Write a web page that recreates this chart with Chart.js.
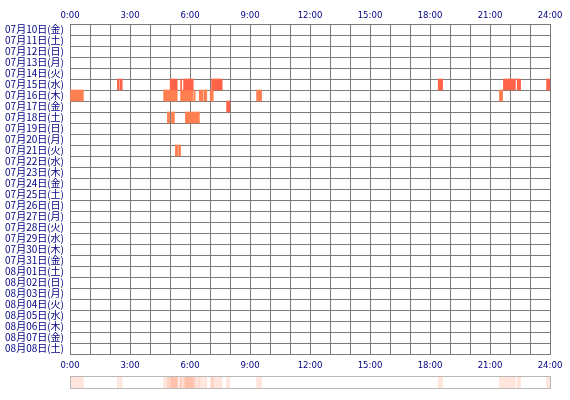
<!DOCTYPE html>
<html>
<head>
<meta charset="utf-8">
<script src="https://cdn.jsdelivr.net/npm/chart.js@4/dist/chart.umd.min.js"></script>
<style>
  html, body { margin: 0; padding: 0; background: #ffffff; }
  #wrap { position: relative; width: 570px; height: 400px; }
  #main { position: absolute; left: 0; top: 0; }
  #strip { position: absolute; left: 0; top: 370px; }
</style>
</head>
<body>
<div id="wrap">
  <canvas id="main" width="570" height="372"></canvas>
  <canvas id="strip" width="570" height="26"></canvas>
</div>
<script>
// ---- categories (days) ----
const days = [
  '07月10日(金)','07月11日(土)','07月12日(日)','07月13日(月)','07月14日(火)',
  '07月15日(水)','07月16日(木)','07月17日(金)','07月18日(土)','07月19日(日)',
  '07月20日(月)','07月21日(火)','07月22日(水)','07月23日(木)','07月24日(金)',
  '07月25日(土)','07月26日(日)','07月27日(月)','07月28日(火)','07月29日(水)',
  '07月30日(木)','07月31日(金)','08月01日(土)','08月02日(日)','08月03日(月)',
  '08月04日(火)','08月05日(水)','08月06日(木)','08月07日(金)','08月08日(土)'
];

// ---- tick labels (every 3 hours) ----
const hourLabels = ['0:00','3:00','6:00','9:00','12:00','15:00','18:00','21:00','24:00'];

// ---- activity intervals [start hour, end hour] per day ----
const jul15 = [[2.37,2.44],[2.49,2.61],[5.01,5.36],[5.53,5.58],[5.68,6.16],[7.08,7.61],
               [18.41,18.63],[21.67,22.27],[22.36,22.53],[23.83,24.0]];
const jul16 = [[0.0,0.67],[4.68,5.36],[5.53,6.16],[6.21,6.26],[6.46,6.66],[6.71,6.84],
               [7.01,7.16],[9.33,9.58],[21.47,21.63]];
const jul17 = [[7.83,7.99]];
const jul18 = [[4.87,4.98],[5.07,5.22],[5.77,6.47]];
const jul21 = [[5.27,5.38],[5.43,5.53]];

const redDays = [['07月15日(水)', jul15], ['07月17日(金)', jul17]];
const orangeDays = [['07月16日(木)', jul16], ['07月18日(土)', jul18], ['07月21日(火)', jul21]];

function toPoints(list) {
  const pts = [];
  list.forEach(([day, arr]) => arr.forEach(iv => pts.push({ y: day, x: [iv[0], iv[1]] })));
  return pts;
}

const gridColor = '#7a7a7a';
const labelColor = '#000080';
const narrowFont = { family: "'Liberation Sans Narrow','DejaVu Sans Condensed',sans-serif", size: 9.5 };

new Chart(document.getElementById('main'), {
  type: 'bar',
  data: {
    labels: days,
    datasets: [
      { data: toPoints(redDays), backgroundColor: '#ff6347', borderWidth: 0,
        barPercentage: 1, categoryPercentage: 1, grouped: false },
      { data: toPoints(orangeDays), backgroundColor: '#ff7f50', borderWidth: 0,
        barPercentage: 1, categoryPercentage: 1, grouped: false }
    ]
  },
  options: {
    indexAxis: 'y',
    responsive: false,
    animation: false,
    devicePixelRatio: 1,
    layout: { padding: { left: 0, right: 20, top: 0, bottom: 0 } },
    plugins: { legend: { display: false }, tooltip: { enabled: false } },
    scales: {
      y: {
        type: 'category',
        position: 'left',
        z: 1,
        offset: true,
        grid: { color: gridColor, lineWidth: 1, drawTicks: false, offset: true },
        border: { color: gridColor, width: 1 },
        ticks: {
          color: labelColor, padding: 6, autoSkip: false,
          font: { family: "'Noto Sans CJK JP',sans-serif", size: 10 }
        },
        afterFit(scale) { scale.width = 70; }
      },
      x: {
        type: 'linear', position: 'bottom', min: 0, max: 24, z: 1,
        grid: { color: gridColor, lineWidth: 1, drawTicks: false },
        border: { color: gridColor, width: 1 },
        ticks: {
          stepSize: 1, autoSkip: false, maxRotation: 0, padding: 6,
          color: labelColor, font: narrowFont,
          callback: v => (v % 3 === 0 ? hourLabels[v / 3] : '')
        },
        afterFit(scale) { scale.height = 18; }
      },
      x2: {
        type: 'linear', position: 'top', min: 0, max: 24, z: 1,
        grid: { display: false, drawTicks: false },
        border: { color: gridColor, width: 1 },
        ticks: {
          stepSize: 1, autoSkip: false, maxRotation: 0, padding: 3,
          color: labelColor, font: narrowFont,
          callback: v => (v % 3 === 0 ? hourLabels[v / 3] : '')
        },
        afterFit(scale) { scale.height = 24; }
      }
    }
  }
});

// ---- summary strip: all intervals overlaid with transparency ----
const allDays = redDays.concat(orangeDays);
const stripPoints = [];
allDays.forEach(([day, arr]) => arr.forEach(iv => stripPoints.push({ y: 'all', x: [iv[0], iv[1]] })));

const frame = {
  id: 'frame',
  afterDraw(chart) {
    const a = chart.chartArea, c = chart.ctx;
    c.save();
    c.strokeStyle = '#b8b8b8';
    c.lineWidth = 1;
    c.strokeRect(Math.round(a.left) + 0.5, Math.round(a.top) + 0.5,
                 Math.round(a.right - a.left), Math.round(a.bottom - a.top));
    c.restore();
  }
};

new Chart(document.getElementById('strip'), {
  type: 'bar',
  data: {
    labels: ['all'],
    datasets: [{ data: stripPoints, backgroundColor: 'rgba(255,127,80,0.2)', borderWidth: 0,
                 barPercentage: 1, categoryPercentage: 1 }]
  },
  options: {
    indexAxis: 'y',
    responsive: false,
    animation: false,
    devicePixelRatio: 1,
    layout: { padding: { left: 70, right: 20, top: 6, bottom: 8 } },
    plugins: { legend: { display: false }, tooltip: { enabled: false } },
    scales: {
      x: { type: 'linear', min: 0, max: 24, display: false },
      y: { type: 'category', display: false }
    }
  },
  plugins: [frame]
});
</script>
</body>
</html>
